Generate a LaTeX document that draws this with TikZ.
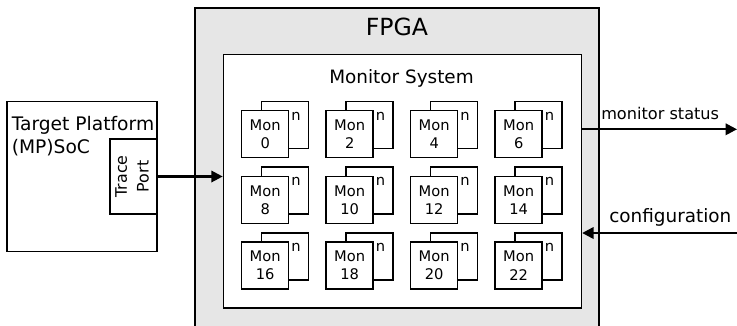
\documentclass[tikz,border=0pt]{standalone}
\usepackage{fontspec}
\setmainfont{DejaVu Sans}
\usetikzlibrary{arrows.meta,positioning,calc}
\definecolor{fpgagrey}{HTML}{E6E6E6}

\begin{document}
\begin{tikzpicture}[x=0.75pt,y=-0.75pt,
  box/.style={draw,line width=1.1pt,inner sep=0pt},
  monback/.style={box,fill=white,minimum size=35.25pt},
  monfront/.style={box,fill=white,minimum size=35.25pt,align=center,font=\fontsize{11}{13.7}\selectfont},
  sig/.style={-{Triangle[length=8.5pt,width=8.5pt]},line width=1.7pt}]
\useasboundingbox (0,0) rectangle (737,325);
\clip (0,0) rectangle (737,325);
% target side
\node[box,minimum width=112.5pt,minimum height=112.2pt] (target) at (82,176.5) {};
\node[anchor=north west,align=left,inner sep=0pt,font=\fontsize{14}{17}\selectfont] (tplabel) at (11.5,116) {Target Platform\\(MP)SoC};
\node[box,fill=white,minimum width=35.25pt,minimum height=56.25pt] (tport) at (133.5,176.5) {\rotatebox{90}{\fontsize{11.9}{16.3}\selectfont\begin{tabular}{@{}c@{}}Trace\\Port\end{tabular}}};
% fpga
\node[box,fill=fpgagrey,minimum width=303pt,minimum height=255pt,anchor=north] (fpga) at (397,7.3) {};
\node[font=\fontsize{17.7}{20}\selectfont] (fpgalabel) at (397,27.2) {FPGA};
\node[box,fill=white,minimum width=268.5pt,minimum height=190pt,anchor=north west] (monsys) at (222.7,54) {};
\node[anchor=base,inner sep=0pt,font=\fontsize{13.8}{16}\selectfont] (monlabel) at (401.5,83.3) {Monitor System};
\foreach \c in {0,...,3}{
  \foreach \r in {0,...,2}{
    \pgfmathtruncatemacro{\idx}{2*(4*\r+\c)}
    \node[monback,anchor=north west] (back\idx) at (260.7+84.5*\c,100.7+65.7*\r) {};
    \node[anchor=base west,inner sep=0pt,font=\fontsize{11}{12}\selectfont] (n\idx) at ($(back\idx.north west)+(30.5,19.3)$) {n};
    \node[monfront] (mon\idx) at (265.2+84.5*\c,134.2+65.7*\r) {Mon\\\idx};
  }
}
% signals
\draw[sig] (tport.east) -- (tport.east -| monsys.west);
\coordinate (stat) at (737,129.3);
\coordinate (conf) at (737,233);
\draw[sig] (stat -| monsys.east) -- (stat);
\draw[sig] (conf) -- (conf -| monsys.east);
\node[anchor=base west,inner sep=0pt,font=\fontsize{12.1}{14}\selectfont] (statlabel) at (601,119.3) {monitor status};
\node[anchor=base west,inner sep=0pt,font=\fontsize{13.8}{16}\selectfont] (conflabel) at (609,222.7) {configuration};
\end{tikzpicture}
\end{document}
